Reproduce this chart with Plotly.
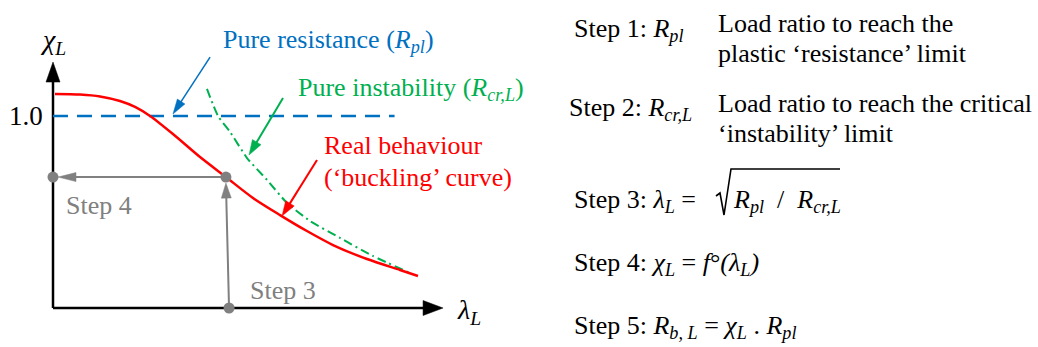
import math
import plotly.graph_objects as go

# ---- curve data (slenderness lambda_L vs reduction factor chi_L) ----
real_lambda = [0.012, 0.164, 0.285, 0.406, 0.497, 0.588, 0.727, 0.891, 1.048,
               1.212, 1.376, 1.539, 1.697, 1.903, 2.103, 2.212]
real_chi = [1.115, 1.112, 1.102, 1.078, 1.047, 1.000, 0.906, 0.786, 0.682,
            0.573, 0.484, 0.401, 0.328, 0.255, 0.198, 0.167]

inst_lambda = [0.933, 1.000, 1.073, 1.176, 1.297, 1.418, 1.558, 1.739, 1.939, 2.164]
inst_chi = [1.141, 1.000, 0.917, 0.781, 0.667, 0.547, 0.453, 0.365, 0.271, 0.182]

resist_lambda = [0.0, 2.07]
resist_chi = [1.0, 1.0]

# design point read through the steps
step_lambda_top = 1.048
step_lambda_bottom = 1.067
step_chi = 0.682

axis_lambda_end = 2.364
axis_chi_end = 1.281

# callout arrows (tail -> tip)
blue_call = [(0.952, 1.307), (0.727, 1.010)]
green_call = [(1.394, 1.094), (1.188, 0.797)]
red_call = [(1.600, 0.771), (1.388, 0.479)]

# ---- styling ----
W, H = 1038, 347
SX, SY = 165.0, 192.0          # pixels per data unit
X0, Y0 = 53.0, 308.0           # pixel position of the origin
RED = "#FF0000"
BLUE = "#0070C0"
GREEN = "#00B050"
GREY = "#808080"
FONT = "Liberation Serif"

fig = go.Figure()


def head(tip, tail, length, width, color):
    """Filled triangular arrow head at `tip`, pointing away from `tail`.
    Returns the data point where the shaft should stop."""
    dx = (tip[0] - tail[0]) * SX
    dy = (tip[1] - tail[1]) * SY
    n = math.hypot(dx, dy)
    ux, uy = dx / n, dy / n
    bx = tip[0] * SX - ux * length
    by = tip[1] * SY - uy * length
    px, py = -uy, ux
    xs = [tip[0] * SX, bx + px * width / 2, bx - px * width / 2, tip[0] * SX]
    ys = [tip[1] * SY, by + py * width / 2, by - py * width / 2, tip[1] * SY]
    fig.add_trace(go.Scatter(
        x=[v / SX for v in xs], y=[v / SY for v in ys], mode="lines",
        fill="toself", fillcolor=color, line=dict(color=color, width=0.5),
        hoverinfo="skip"))
    return (bx / SX + ux * 1.0 / SX, by / SY + uy * 1.0 / SY)


def arrow(tail, tip, color, lw, length, width):
    base = head(tip, tail, length, width, color)
    fig.add_trace(go.Scatter(x=[tail[0], base[0]], y=[tail[1], base[1]],
                             mode="lines", line=dict(color=color, width=lw),
                             hoverinfo="skip"))


# axes with arrow heads
arrow((0, 0), (0, axis_chi_end), "black", 2.5, 20, 14)
arrow((0, 0), (axis_lambda_end, 0), "black", 2.5, 20, 15)

# pure resistance (plastic) limit
fig.add_trace(go.Scatter(x=resist_lambda, y=resist_chi, mode="lines",
                         line=dict(color=BLUE, width=2.5, dash="15px,9px"),
                         hoverinfo="skip"))

# pure instability (elastic critical) curve
fig.add_trace(go.Scatter(x=inst_lambda, y=inst_chi, mode="lines",
                         line=dict(color=GREEN, width=2, dash="9px,4px,2px,4px",
                                   shape="spline", smoothing=0.5),
                         hoverinfo="skip"))

# real behaviour (buckling curve)
fig.add_trace(go.Scatter(x=real_lambda, y=real_chi, mode="lines",
                         line=dict(color=RED, width=2.5, shape="spline",
                                   smoothing=0.8),
                         hoverinfo="skip"))

# step 3 -> step 4 construction (heads stop at the edge of the dots)
arrow((step_lambda_bottom, 0), (step_lambda_top, step_chi - 6.0 / SY),
      GREY, 2, 15, 10)
arrow((step_lambda_top, step_chi), (5.0 / SX, step_chi), GREY, 2, 18, 9)
fig.add_trace(go.Scatter(
    x=[0, step_lambda_top, step_lambda_bottom], y=[step_chi, step_chi, 0],
    mode="markers", marker=dict(color=GREY, size=11), hoverinfo="skip"))

# callout arrows
arrow(blue_call[0], blue_call[1], BLUE, 1.5, 15, 9)
arrow(green_call[0], green_call[1], GREEN, 2, 15, 10)
arrow(red_call[0], red_call[1], RED, 2, 15, 10)


def text(x, baseline, s, size=26, color="black", anchor="left"):
    """Place a label by its left edge and baseline in page pixels."""
    top = baseline - 0.891 * size - 1
    fig.add_annotation(x=x / W, y=1 - top / H, xref="paper", yref="paper",
                       text=s, showarrow=False, xanchor=anchor, yanchor="top",
                       font=dict(family=FONT, size=size, color=color),
                       align="left")


# chart labels
text(53, 48, "<i>χ<sub>L</sub></i>", size=28, anchor="center")
text(455, 318, "<i>λ<sub>L</sub></i>", size=28)
text(45, 124, "1.0", size=27, anchor="right")
text(221, 47, "Pure resistance (<i>R</i><sub><i>pl</i></sub>)", color=BLUE)
text(296, 95, "Pure instability (<i>R</i><sub><i>cr,L</i></sub>)", color=GREEN)
text(322, 153, "Real behaviour", color=RED)
text(322, 185, "(‘buckling’ curve)", color=RED)
text(64, 213, "Step 4", color=GREY)
text(248, 298, "Step 3", color=GREY)

# procedure description
text(572, 36, "Step 1: <i>R</i><sub><i>pl</i></sub>")
text(716, 31, "Load ratio to reach the")
text(716, 61, "plastic ‘resistance’ limit")
text(567, 115, "Step 2: <i>R</i><sub><i>cr,L</i></sub>")
text(716, 111, "Load ratio to reach the critical")
text(716, 141, "‘instability’ limit")
text(572, 207, "Step 3: <i>λ</i><sub><i>L</i></sub> =")
text(731, 207, "<i>R</i><sub><i>pl</i></sub>  /  <i>R</i><sub><i>cr,L</i></sub>")
text(572, 270, "Step 4: <i>χ</i><sub><i>L</i></sub> = <i>f</i>°<i>(λ</i><sub><i>L</i></sub><i>)</i>")
text(572, 333, "Step 5: <i>R</i><sub><i>b, L</i></sub> = <i>χ</i><sub><i>L</i></sub> . <i>R</i><sub><i>pl</i></sub>")

# radical sign over R_pl / R_cr,L
pts = [(716, 196), (720, 193), (724, 215), (731, 169), (840, 169)]
path = "M" + " L".join(f"{x / W:.5f},{1 - y / H:.5f}" for x, y in pts)
fig.add_shape(type="path", path=path, xref="paper", yref="paper",
              line=dict(color="black", width=1.6))

fig.update_layout(
    width=W, height=H, margin=dict(l=0, r=0, t=0, b=0),
    paper_bgcolor="white", plot_bgcolor="white", showlegend=False,
    font=dict(family=FONT),
    xaxis=dict(range=[-X0 / SX, (W - X0) / SX], visible=False, fixedrange=True),
    yaxis=dict(range=[(Y0 - H) / SY, Y0 / SY], visible=False, fixedrange=True),
)

fig.write_html("out.html")
